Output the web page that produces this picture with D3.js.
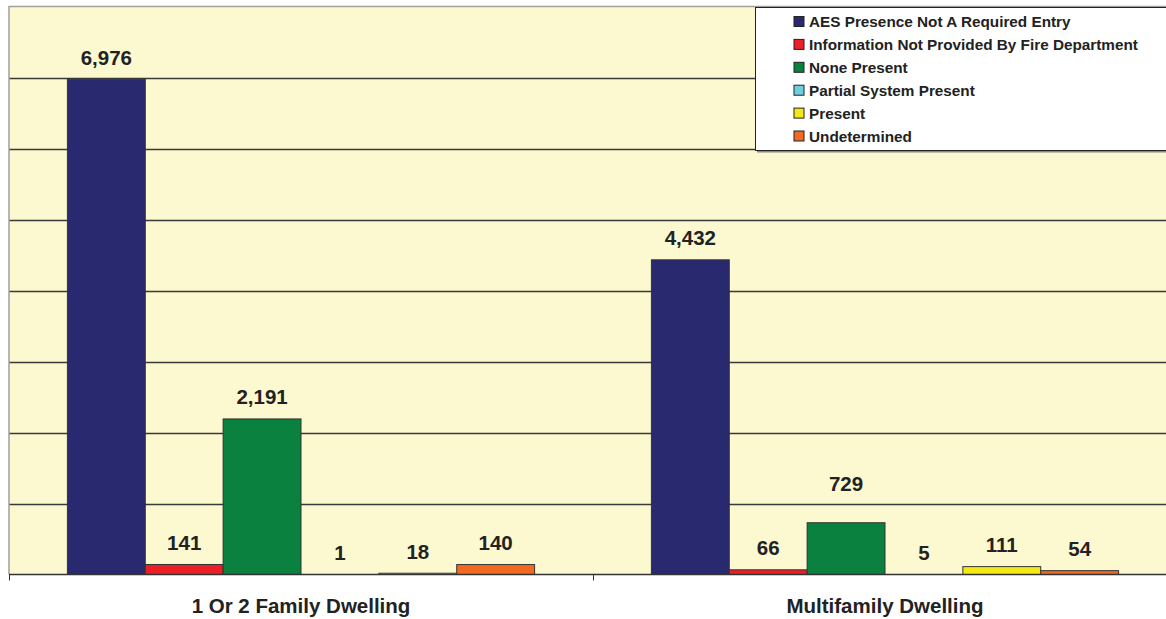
<!DOCTYPE html>
<html>
<head>
<meta charset="utf-8">
<script src="https://cdn.jsdelivr.net/npm/d3@7"></script>
<style>
  html, body { margin: 0; padding: 0; background: #fff; }
  svg { display: block; }
</style>
</head>
<body>
<div id="chart"></div>
<script>
// dwelling types on the x axis
const categories = ['1 Or 2 Family Dwelling', 'Multifamily Dwelling'];

// AES status series
const seriesNames = [
    'AES Presence Not A Required Entry',
    'Information Not Provided By Fire Department',
    'None Present',
    'Partial System Present',
    'Present',
    'Undetermined'
];
const seriesColors = ['#29296f', '#ec1f26', '#0b8140', '#6fcfe0', '#f4e915', '#f06a21'];

// counts per series, one entry per category
const aesNotRequired = [6976, 4432];
const infoNotProvided = [141, 66];
const nonePresent = [2191, 729];
const partialPresent = [1, 5];
const present = [18, 111];
const undetermined = [140, 54];

const yTicks = [1000, 2000, 3000, 4000, 5000, 6000, 7000];

const seriesValues = [aesNotRequired, infoNotProvided, nonePresent, partialPresent, present, undetermined];

const W = 1166, H = 619;
const plot = { left: 9, right: 1177, top: 6.5, bottom: 574.5 };
const fontFamily = '"Liberation Sans", Arial, sans-serif';

// one label was dragged up by hand in the original
const labelNudge = { 'Multifamily Dwelling|None Present': -17 };

const svg = d3.select('#chart').append('svg')
    .attr('width', W)
    .attr('height', H);

const x0 = d3.scaleBand().domain(categories).range([plot.left, plot.right]).padding(0);
const x1 = d3.scaleBand().domain(seriesNames).range([0, x0.bandwidth()])
    .paddingInner(0).paddingOuter(0.75);
const y = d3.scaleLinear().domain([0, 8000]).range([plot.bottom, plot.top]);

// plot background
svg.append('rect')
    .attr('x', plot.left)
    .attr('y', plot.top)
    .attr('width', plot.right - plot.left)
    .attr('height', plot.bottom - plot.top)
    .attr('fill', '#fcf8d0');

// gridlines
svg.append('g')
    .selectAll('line')
    .data(yTicks)
    .join('line')
    .attr('x1', plot.left)
    .attr('x2', plot.right)
    .attr('y1', d => Math.round(y(d)) + 0.5)
    .attr('y2', d => Math.round(y(d)) + 0.5)
    .attr('stroke', '#3a3a3a')
    .attr('stroke-width', 1.3);

// frame (top and left edges are grey)
svg.append('path')
    .attr('d', `M${plot.left},${plot.bottom}V${plot.top}H${plot.right}`)
    .attr('fill', 'none')
    .attr('stroke', '#a0a0a0')
    .attr('stroke-width', 1.5);

const rows = [];
categories.forEach((c, ci) => {
    seriesNames.forEach((s, si) => {
        rows.push({ cat: c, series: s, color: seriesColors[si], value: seriesValues[si][ci] });
    });
});

// bars
svg.append('g')
    .selectAll('rect')
    .data(rows)
    .join('rect')
    .attr('x', d => x0(d.cat) + x1(d.series))
    .attr('y', d => y(d.value))
    .attr('width', x1.bandwidth())
    .attr('height', d => y(0) - y(d.value))
    .attr('fill', d => d.color)
    .attr('stroke', d => (y(0) - y(d.value)) < 0.5 ? 'none' : '#333')
    .attr('stroke-width', 1);

// value labels
svg.append('g')
    .selectAll('text')
    .data(rows)
    .join('text')
    .attr('x', d => x0(d.cat) + x1(d.series) + x1.bandwidth() / 2)
    .attr('y', d => y(d.value) - 14.5 + (labelNudge[d.cat + '|' + d.series] || 0))
    .attr('text-anchor', 'middle')
    .style('font-family', fontFamily)
    .style('font-size', '20.5px')
    .style('font-weight', 'bold')
    .style('fill', '#222')
    .text(d => d3.format(',')(d.value));

// x axis baseline and ticks
svg.append('line')
    .attr('x1', plot.left)
    .attr('x2', plot.right)
    .attr('y1', plot.bottom)
    .attr('y2', plot.bottom)
    .attr('stroke', '#333')
    .attr('stroke-width', 1.5);

svg.append('g')
    .selectAll('line')
    .data([plot.left, plot.left + x0.bandwidth(), plot.right])
    .join('line')
    .attr('x1', d => d + 0.5)
    .attr('x2', d => d + 0.5)
    .attr('y1', plot.bottom)
    .attr('y2', plot.bottom + 6)
    .attr('stroke', '#333')
    .attr('stroke-width', 1);

// category labels
svg.append('g')
    .selectAll('text')
    .data(categories)
    .join('text')
    .attr('x', d => x0(d) + x0.bandwidth() / 2)
    .attr('y', 613)
    .attr('text-anchor', 'middle')
    .style('font-family', fontFamily)
    .style('font-size', '20.5px')
    .style('font-weight', 'bold')
    .style('fill', '#222')
    .text(d => d);

// legend
const legend = { x: 755, y: 7.5, w: 440, h: 143, rowY0: 21.5, rowStep: 22.9 };
const lg = svg.append('g');
lg.append('rect')
    .attr('x', legend.x + 2)
    .attr('y', legend.y + 2)
    .attr('width', legend.w)
    .attr('height', legend.h)
    .attr('fill', '#888');
lg.append('rect')
    .attr('x', legend.x + 0.5)
    .attr('y', legend.y)
    .attr('width', legend.w)
    .attr('height', legend.h)
    .attr('fill', '#fff')
    .attr('stroke', '#222')
    .attr('stroke-width', 1);

const items = lg.selectAll('g.item')
    .data(seriesNames)
    .join('g')
    .attr('class', 'item')
    .attr('transform', (d, i) => `translate(0,${legend.rowY0 + i * legend.rowStep})`);

items.append('rect')
    .attr('x', 794)
    .attr('y', -5)
    .attr('width', 10)
    .attr('height', 10)
    .attr('fill', (d, i) => seriesColors[i])
    .attr('stroke', '#222')
    .attr('stroke-width', 1);

items.append('text')
    .attr('x', 809)
    .attr('y', 5.5)
    .style('font-family', fontFamily)
    .style('font-size', '15.3px')
    .style('font-weight', 'bold')
    .style('fill', '#222')
    .text(d => d);
</script>
</body>
</html>
